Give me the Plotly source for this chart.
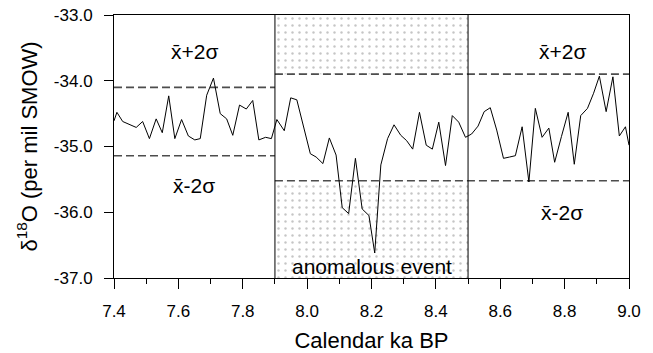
import plotly.graph_objects as go

# ---- data ----
age_ka = [7.400, 7.409, 7.427, 7.448, 7.469, 7.489, 7.510, 7.531, 7.550, 7.570,
          7.589, 7.610, 7.631, 7.651, 7.668, 7.688, 7.709, 7.730, 7.750, 7.769,
          7.790, 7.811, 7.831, 7.850, 7.871, 7.889, 7.906, 7.929, 7.949, 7.968,
          7.989, 8.010, 8.028, 8.049, 8.069, 8.090, 8.109, 8.129, 8.150, 8.171,
          8.192, 8.210, 8.229, 8.250, 8.270, 8.291, 8.309, 8.328, 8.349, 8.370,
          8.389, 8.409, 8.430, 8.451, 8.471, 8.492, 8.511, 8.531, 8.550, 8.569,
          8.589, 8.610, 8.629, 8.647, 8.668, 8.689, 8.709, 8.730, 8.751, 8.769,
          8.790, 8.811, 8.830, 8.850, 8.871, 8.890, 8.908, 8.929, 8.950, 8.970,
          8.989, 9.000]
d18o = [-34.61, -34.48, -34.62, -34.66, -34.71, -34.62, -34.88, -34.58, -34.79, -34.23,
        -34.88, -34.59, -34.84, -34.90, -34.88, -34.22, -33.96, -34.50, -34.58, -34.83,
        -34.37, -34.43, -34.30, -34.90, -34.86, -34.88, -34.59, -34.76, -34.26, -34.29,
        -34.70, -35.11, -35.16, -35.26, -34.87, -35.13, -35.93, -36.02, -35.18, -35.95,
        -36.05, -36.62, -35.28, -34.88, -34.67, -34.83, -34.91, -35.04, -34.48, -34.98,
        -35.04, -34.63, -35.29, -34.53, -34.63, -34.86, -34.81, -34.69, -34.47, -34.41,
        -34.75, -35.18, -35.16, -35.14, -34.70, -35.54, -34.42, -34.86, -34.72, -35.24,
        -34.85, -34.48, -35.27, -34.53, -34.42, -34.19, -33.93, -34.47, -33.94, -34.84,
        -34.70, -34.98]

x_min, x_max = 7.4, 9.0
y_min, y_max = -37.0, -33.0
event_start, event_end = 7.9, 8.5

# mean +/- 2 sigma levels
pre_upper, pre_lower = -34.10, -35.14      # before event (7.4 - 7.9)
post_upper, post_lower = -33.90, -35.52    # from event onward (7.9 - 9.0)

x_ticks = [7.4, 7.6, 7.8, 8.0, 8.2, 8.4, 8.6, 8.8, 9.0]
y_ticks = [-37.0, -36.0, -35.0, -34.0, -33.0]

FONT = "Liberation Sans, Arial, Helvetica, sans-serif"

fig = go.Figure()

pattern = dict(shape=".", size=7, solidity=0.1, fgcolor="#8c8c8c", bgcolor="white")

# stippled regions in the anomalous-event window (outside the +/-2 sigma band)
fig.add_trace(go.Scatter(
    x=[event_start, event_end, event_end, event_start, event_start],
    y=[post_upper, post_upper, y_max, y_max, post_upper],
    mode="lines", line=dict(width=0), fill="toself", fillcolor="white",
    fillpattern=pattern, hoverinfo="skip", showlegend=False))
fig.add_trace(go.Scatter(
    x=[event_start, event_end, event_end, event_start, event_start],
    y=[y_min, y_min, post_lower, post_lower, y_min],
    mode="lines", line=dict(width=0), fill="toself", fillcolor="white",
    fillpattern=pattern, hoverinfo="skip", showlegend=False))

dash_style = dict(color="#4d4d4d", width=1.6, dash="8px,4px")
# dashed 2-sigma lines
fig.add_trace(go.Scatter(x=[x_min, event_start], y=[pre_upper, pre_upper], mode="lines",
                         line=dash_style, showlegend=False, hoverinfo="skip"))
fig.add_trace(go.Scatter(x=[x_min, event_start], y=[pre_lower, pre_lower], mode="lines",
                         line=dash_style, showlegend=False, hoverinfo="skip"))
fig.add_trace(go.Scatter(x=[event_start, x_max], y=[post_upper, post_upper], mode="lines",
                         line=dash_style, showlegend=False, hoverinfo="skip"))
fig.add_trace(go.Scatter(x=[event_start, x_max], y=[post_lower, post_lower], mode="lines",
                         line=dash_style, showlegend=False, hoverinfo="skip"))

# the record
fig.add_trace(go.Scatter(x=age_ka, y=d18o, mode="lines",
                         line=dict(color="black", width=1), showlegend=False))

# event boundaries
for xv in (event_start, event_end):
    fig.add_shape(type="line", xref="x", yref="paper", x0=xv, x1=xv, y0=0, y1=1,
                  line=dict(color="black", width=1))

ann_font = dict(family=FONT, size=21, color="black")
fig.add_annotation(x=7.65, y=-33.55, text="x\u0304+2\u03c3", showarrow=False, font=ann_font)
fig.add_annotation(x=7.65, y=-35.6, text="x\u0304-2\u03c3", showarrow=False, font=ann_font)
fig.add_annotation(x=8.793, y=-33.55, text="x\u0304+2\u03c3", showarrow=False, font=ann_font)
fig.add_annotation(x=8.793, y=-36.0, text="x\u0304-2\u03c3", showarrow=False, font=ann_font)
fig.add_annotation(x=8.2, y=-36.82, text="anomalous event", showarrow=False,
                   font=dict(family=FONT, size=21, color="black"))

fig.update_layout(
    width=653, height=353,
    margin=dict(l=114, r=24, t=15, b=75),
    paper_bgcolor="white", plot_bgcolor="white",
    font=dict(family=FONT, size=17, color="black"),
    xaxis=dict(range=[x_min, x_max], tickvals=x_ticks, ticktext=[f"{v:.1f}" for v in x_ticks],
               showgrid=False, zeroline=False, showline=True, linecolor="black", linewidth=1,
               mirror=True, ticks="outside", ticklen=10, tickcolor="black",
               ticklabelstandoff=8, automargin=False,
               minor=dict(dtick=0.1, ticks="outside", ticklen=5, tickcolor="black", showgrid=False),
               title=dict(text="Calendar ka BP", font=dict(size=22), standoff=12)),
    yaxis=dict(range=[y_min, y_max], tickvals=y_ticks, ticktext=[f"{v:.1f}" for v in y_ticks],
               showgrid=False, zeroline=False, showline=True, linecolor="black", linewidth=1,
               mirror=True, ticks="outside", ticklen=9, tickcolor="black",
               ticklabelstandoff=8, automargin=False,
               title=dict(text="\u03b4<sup>18</sup>O (per mil SMOW)", font=dict(size=22), standoff=10)),
)

fig.write_html("out.html", config={"displayModeBar": False},
               post_script="document.body.style.margin='0';")
